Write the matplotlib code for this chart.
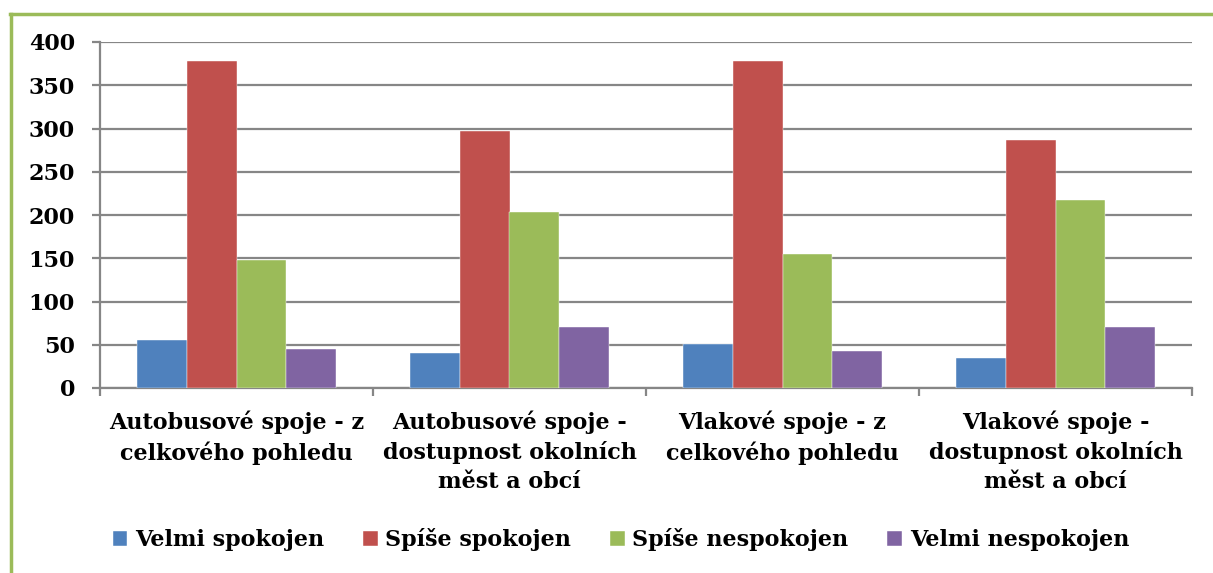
import numpy as np
import matplotlib.pyplot as plt
from matplotlib.lines import Line2D

# data
categories = ['Autobusové spoje - z\ncelkového pohledu',
              'Autobusové spoje -\ndostupnost okolních\nměst a obcí',
              'Vlakové spoje - z\ncelkového pohledu',
              'Vlakové spoje -\ndostupnost okolních\nměst a obcí']
series_names = ['Velmi spokojen', 'Spíše spokojen', 'Spíše nespokojen', 'Velmi nespokojen']
velmi_spokojen = [56, 40, 51, 35]
spise_spokojen = [378, 297, 378, 287]
spise_nespokojen = [148, 203, 155, 217]
velmi_nespokojen = [45, 70, 43, 70]
colors = ['#4F81BD', '#C0504D', '#9BBB59', '#8064A2']

plt.rcParams['font.family'] = ['DejaVu Serif']
plt.rcParams['font.weight'] = 'bold'

fig = plt.figure(figsize=(12.13, 5.73), dpi=100)
ax = fig.add_axes([100 / 1213, 1 - 388 / 573, 1092 / 1213, 346 / 573])

x = np.arange(len(categories))
w = 1 / 5.5
all_series = [velmi_spokojen, spise_spokojen, spise_nespokojen, velmi_nespokojen]
for i, vals in enumerate(all_series):
    ax.bar(x + (i - 1.5) * w, vals, width=w, color=colors[i], label=series_names[i],
           edgecolor='white', linewidth=0.3, zorder=3)

ax.set_xlim(-0.5, 3.5)
ax.set_ylim(0, 400)
ax.set_yticks(range(0, 401, 50))
ax.grid(axis='y', color='#868686', linewidth=1.6, zorder=0)

for s in ['top', 'right']:
    ax.spines[s].set_visible(False)
for s in ['left', 'bottom']:
    ax.spines[s].set_color('#868686')
    ax.spines[s].set_linewidth(1.6)

ax.set_xticks(x)
ax.set_xticklabels(categories, fontsize=16, linespacing=1.42)
ax.set_xticks(np.arange(-0.5, 3.6, 1), minor=True)
ax.tick_params(axis='x', which='major', length=0, pad=16)
ax.tick_params(axis='x', which='minor', length=6, width=1.6, color='#868686')
ax.tick_params(axis='y', length=6, width=1.6, color='#868686', pad=12, labelsize=16)

fig.legend(loc='center', bbox_to_anchor=(0.512, 0.0576), ncol=4, frameon=False,
           fontsize=16, handlelength=0.65, handleheight=0.65, handletextpad=0.35,
           columnspacing=1.75, borderaxespad=0)

# green frame on left and top
fig.add_artist(Line2D([11 / 1213, 11 / 1213], [0, 1 - 14 / 573], color='#9BBB59', linewidth=2.5))
fig.add_artist(Line2D([10 / 1213, 1], [1 - 14 / 573, 1 - 14 / 573], color='#9BBB59', linewidth=2.5))

fig.savefig('out.png', dpi=100)
